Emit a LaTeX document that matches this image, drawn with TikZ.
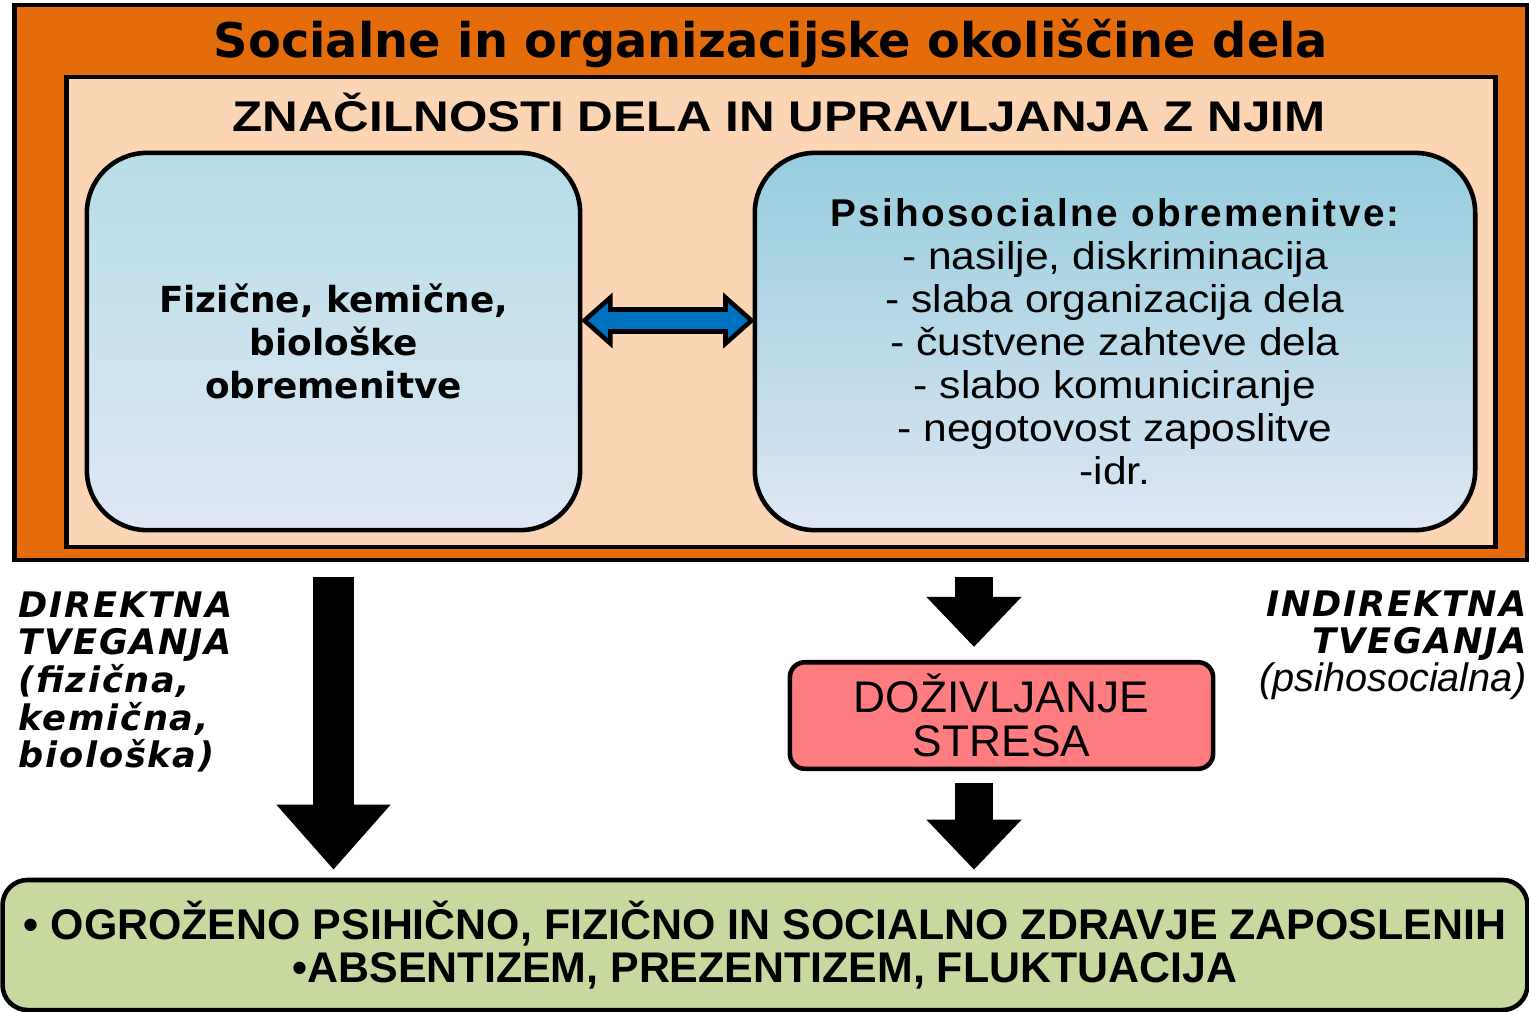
\documentclass[tikz,border=0pt]{standalone}
\usepackage{fontspec}
\setmainfont{Liberation Sans}
\newfontfamily\dejavu{DejaVu Sans}
\newfontfamily\dejavuls[LetterSpace=5]{DejaVu Sans}
\newfontfamily\widearial[FakeStretch=1.15]{Liberation Sans}
\newfontfamily\spacedarial[LetterSpace=6]{Liberation Sans}
\newfontfamily\listarial[FakeStretch=1.1]{Liberation Sans}
\usetikzlibrary{arrows.meta,calc,positioning}
\definecolor{frameorange}{RGB}{228,108,10}
\definecolor{peach}{RGB}{252,213,181}
\definecolor{skytop}{RGB}{183,222,232}
\definecolor{skytopdark}{RGB}{150,205,222}
\definecolor{lavender}{RGB}{222,230,244}
\definecolor{linkblue}{RGB}{0,112,192}
\definecolor{stresspink}{RGB}{255,124,128}
\definecolor{outgreen}{RGB}{200,217,160}
\begin{document}
\begin{tikzpicture}[x=0.01cm,y=-0.01cm,
	loadbox/.style={draw,line width=1.3pt,rounded corners=0.6cm,bottom color=lavender,minimum height=3.77cm,align=center},
	bigarrow/.style={line width=0.4cm,-{Triangle[width=1.1cm,length=0.65cm]},shorten <=0.15cm,shorten >=0.08cm},
	smallarrow/.style={line width=0.38cm,-{Triangle[width=0.92cm,length=0.5cm]}}]
	\useasboundingbox (0,0) rectangle (1529,1011);
	% okvir in naslova
	\node[draw,line width=1.3pt,fill=frameorange,minimum width=15.12cm,minimum height=5.55cm] (outer) at (771,282.5) {};
	\node[font=\dejavu\bfseries\fontsize{13.6}{16}\selectfont] (title) at (771,44) {Socialne in organizacijske okoliščine dela};
	\node[draw,line width=1.3pt,fill=peach,minimum width=14.28cm,minimum height=4.70cm] (inner) at (781,312) {};
	\node[font=\widearial\bfseries\fontsize{12.2}{14}\selectfont] (subtitle) at (779,112) {ZNAČILNOSTI DELA IN UPRAVLJANJA Z NJIM};
	% obremenitve
	\node[loadbox,top color=skytop,minimum width=4.93cm,font=\dejavu\bfseries\fontsize{10.2}{12.2}\selectfont] (lbox) at (333.5,341.5) {Fizične, kemične,\\biološke\\obremenitve};
	\node[loadbox,top color=skytopdark,minimum width=7.2cm,font=\listarial\fontsize{11}{12.2}\selectfont] (rbox) at (1115,341.5)
		{{\spacedarial\bfseries Psihosocialne obremenitve:}\\- nasilje, diskriminacija\\- slaba organizacija dela\\- čustvene zahteve dela\\- slabo komuniciranje\\- negotovost zaposlitve\\-idr.};
	\coordinate (dl) at ($(lbox.east)+(2,-21)$);
	\coordinate (dr) at ($(rbox.west)+(-1,-21)$);
	\draw[line width=1.3pt,fill=linkblue] (dl) -- ++(26,-23) -- ++(0,12) -- ($(dr)+(-26,-11)$) -- ++(0,-12) -- (dr) -- ++(-26,23) -- ++(0,-12) -- ($(dl)+(26,11)$) -- ++(0,12) -- cycle;
	% stres in posledice
	\node[draw,line width=1.3pt,rounded corners=0.15cm,fill=stresspink,minimum width=4.23cm,minimum height=1.05cm,align=center,font=\fontsize{12.6}{12.5}\selectfont] (stress) at (1001.5,715.5) {DOŽIVLJANJE\\STRESA};
	\node[draw,line width=1.3pt,rounded corners=0.25cm,fill=outgreen,minimum width=15.24cm,minimum height=1.3cm,align=center,font=\bfseries\fontsize{12.2}{12.2}\selectfont] (effects) at (765,945)
		{• OGROŽENO PSIHIČNO, FIZIČNO IN SOCIALNO ZDRAVJE ZAPOSLENIH\\•ABSENTIZEM, PREZENTIZEM, FLUKTUACIJA};
	\node[anchor=west,align=left,inner sep=0pt,font=\dejavuls\bfseries\itshape\fontsize{10}{10.7}\selectfont] (direct) at (18,682) {DIREKTNA\\TVEGANJA\\(fizična,\\kemična,\\biološka)};
	\node[anchor=east,align=right,inner sep=0pt,font=\dejavuls\bfseries\itshape\fontsize{10}{10.7}\selectfont] (indirect) at (1527,645)
		{INDIREKTNA\\TVEGANJA\\{\normalfont\itshape\fontsize{11.3}{10.7}\selectfont(psihosocialna)}};
	% puscice
	\coordinate (rx) at (974,0);
	\draw[bigarrow] (outer.south -| lbox.south) -- (effects.north -| lbox.south);
	\draw[smallarrow,shorten <=0.15cm,shorten >=0.13cm] (outer.south -| rx) -- (stress.north -| rx);
	\draw[smallarrow,shorten <=0.12cm,shorten >=0.08cm] (stress.south -| rx) -- (effects.north -| rx);
\end{tikzpicture}
\end{document}
